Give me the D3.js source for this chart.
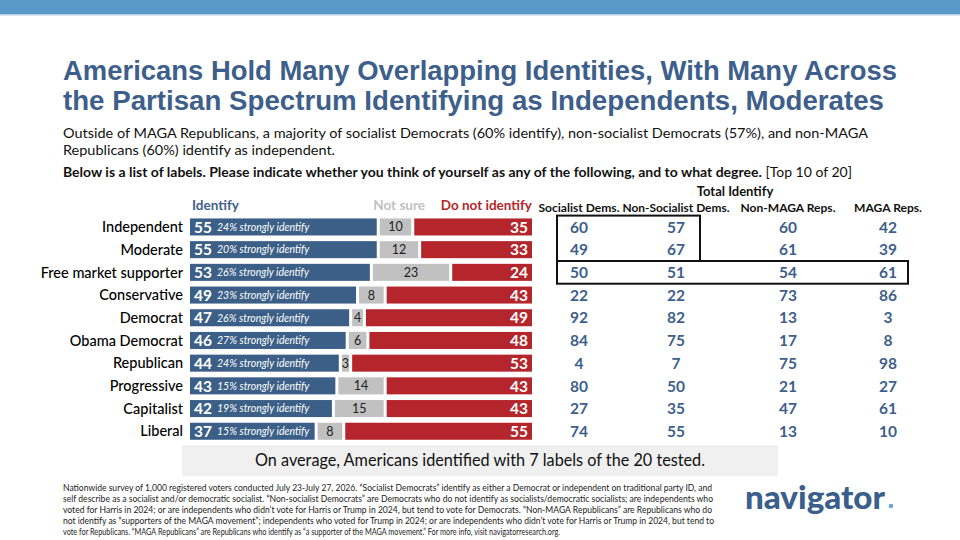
<!DOCTYPE html>
<html>
<head>
<meta charset="utf-8">
<script src="https://cdn.jsdelivr.net/npm/d3@7/dist/d3.min.js"></script>
<style>
  body { margin: 0; background: #fff; }
  svg { display: block; font-family: Lato, "Open Sans", sans-serif; }
</style>
</head>
<body>
<svg id="chart" width="960" height="540"></svg>
<script>
const labels = ["Independent", "Moderate", "Free market supporter", "Conservative", "Democrat",
  "Obama Democrat", "Republican", "Progressive", "Capitalist", "Liberal"];
const identify = [55, 55, 53, 49, 47, 46, 44, 43, 42, 37];
const notSure = [10, 12, 23, 8, 4, 6, 3, 14, 15, 8];
const notIdentify = [35, 33, 24, 43, 49, 48, 53, 43, 43, 55];
const strongly = [24, 20, 26, 23, 26, 27, 24, 15, 19, 15];

const groups = ["Socialist Dems.", "Non-Socialist Dems.", "Non-MAGA Reps.", "MAGA Reps."];
const socialistDems = [60, 49, 50, 22, 92, 84, 4, 80, 27, 74];
const nonSocialistDems = [57, 67, 51, 22, 82, 75, 7, 50, 35, 55];
const nonMagaReps = [60, 61, 54, 73, 13, 17, 75, 21, 47, 13];
const magaReps = [42, 39, 61, 86, 3, 8, 98, 27, 61, 10];

const titleLines = [
  "Americans Hold Many Overlapping Identities, With Many Across",
  "the Partisan Spectrum Identifying as Independents, Moderates"
];
const subtitleLines = [
  "Outside of MAGA Republicans, a majority of socialist Democrats (60% identify), non-socialist Democrats (57%), and non-MAGA",
  "Republicans (60%) identify as independent."
];
const footerLines = [
  "Nationwide survey of 1,000 registered voters conducted July 23-July 27, 2026. \u201cSocialist Democrats\u201d identify as either a Democrat or independent on traditional party ID, and",
  "self describe as a socialist and/or democratic socialist. \u201cNon-socialist Democrats\u201d are Democrats who do not identify as socialists/democratic socialists; are independents who",
  "voted for Harris in 2024; or are independents who didn\u2019t vote for Harris or Trump in 2024, but tend to vote for Democrats. \u201cNon-MAGA Republicans\u201d are Republicans who do",
  "not identify as \u201csupporters of the MAGA movement\u201d; independents who voted for Trump in 2024; or are independents who didn\u2019t vote for Harris or Trump in 2024, but tend to",
  "vote for Republicans. \u201cMAGA Republicans\u201d are Republicans who identify as \u201ca supporter of the MAGA movement.\u201d For more info, visit navigatorresearch.org."
];

const colors = { blue: '#3b5f87', gray: '#c1c1c1', red: '#b5262c', title: '#3e5f8b' };

const svg = d3.select('#chart');

// top band
svg.append('rect').attr('x', 0).attr('y', 0).attr('width', 960).attr('height', 14).attr('fill', '#5b99c9');
svg.append('rect').attr('x', 0).attr('y', 14).attr('width', 960).attr('height', 1.5).attr('fill', '#b3d0e6');

// title
svg.append('g').selectAll('text').data(titleLines).enter().append('text')
  .attr('x', 63).attr('y', (d, i) => 79.5 + i * 30.5)
  .attr('textLength', (d, i) => i == 0 ? 834 : 821)
  .attr('lengthAdjust', 'spacingAndGlyphs')
  .style('font-family', '"Liberation Sans", Arial, sans-serif')
  .style('font-size', '27px').style('font-weight', 700)
  .attr('fill', colors.title).text(d => d);

svg.append('text')
  .style('font-size', '14px').attr('fill', '#111')
  .selectAll('tspan').data(subtitleLines).enter().append('tspan')
  .attr('x', 63).attr('y', (d, i) => 138 + i * 16.5)
  .attr('textLength', (d, i) => i == 0 ? 805 : 272)
  .attr('lengthAdjust', 'spacingAndGlyphs')
  .text(d => d);

let q = svg.append('text').attr('x', 63).attr('y', 177)
  .attr('textLength', 789).attr('lengthAdjust', 'spacingAndGlyphs')
  .style('font-size', '12.5px').attr('fill', '#111');
q.append('tspan').style('font-weight', 700)
  .text('Below is a list of labels. Please indicate whether you think of yourself as any of the following, and to what degree.');
q.append('tspan').text(' [Top 10 of 20]');

// scales
const x = d3.scaleLinear().domain([0, 100]).range([190, 535]);
const y = d3.scaleBand().domain(labels).range([215.6, 442.6]).paddingInner(0.25).paddingOuter(0.125);
const gap = 3;

const rows = labels.map((l, i) => ({
  label: l, id: identify[i], ns: notSure[i], no: notIdentify[i], st: strongly[i],
  vals: [socialistDems[i], nonSocialistDems[i], nonMagaReps[i], magaReps[i]]
}));

// bar legend headers
svg.append('text').attr('x', 192).attr('y', 210).text('Identify')
  .style('font-size', '13.5px').style('font-weight', 700).attr('fill', colors.title);
svg.append('text').attr('x', 425).attr('y', 210).attr('text-anchor', 'end').text('Not sure')
  .style('font-size', '13.5px').style('font-weight', 700).attr('fill', colors.gray);
svg.append('text').attr('x', 532).attr('y', 210).attr('text-anchor', 'end').text('Do not identify')
  .style('font-size', '13.5px').style('font-weight', 700).attr('fill', colors.red);

let bars = svg.append('g').selectAll('g').data(rows).enter().append('g')
  .attr('transform', d => `translate(0,${y(d.label)})`);

bars.append('text').attr('x', 183).attr('y', y.bandwidth() / 2).attr('dy', '0.36em')
  .attr('text-anchor', 'end').style('font-size', '14.5px').style('font-weight', 500)
  .attr('fill', '#000').text(d => d.label);

bars.append('rect').attr('x', x(0)).attr('width', d => x(d.id) - x(0) - gap)
  .attr('height', y.bandwidth()).attr('fill', colors.blue);
bars.append('rect').attr('x', d => x(d.id)).attr('width', d => x(d.ns) - x(0) - gap)
  .attr('height', y.bandwidth()).attr('fill', colors.gray);
bars.append('rect').attr('x', d => x(d.id + d.ns)).attr('width', d => x(d.no) - x(0) - gap)
  .attr('height', y.bandwidth()).attr('fill', colors.red);

bars.append('text').attr('x', x(0) + 4).attr('y', y.bandwidth() / 2).attr('dy', '0.37em')
  .style('font-size', '15.5px').style('font-weight', 700).attr('fill', '#fff').text(d => d.id);
bars.append('text').attr('x', x(0) + 27).attr('y', y.bandwidth() / 2).attr('dy', '0.36em')
  .style('font-size', '10.5px').style('font-style', 'italic').attr('fill', '#fff')
  .text(d => d.st + '% strongly identify');
bars.append('text').attr('x', d => (x(d.id) + x(d.id + d.ns) - gap) / 2).attr('y', y.bandwidth() / 2)
  .attr('dy', '0.36em').attr('text-anchor', 'middle')
  .style('font-size', '12.5px').attr('fill', '#222').text(d => d.ns);
bars.append('text').attr('x', d => x(d.id + d.ns + d.no) - gap - 4).attr('y', y.bandwidth() / 2)
  .attr('dy', '0.37em').attr('text-anchor', 'end')
  .style('font-size', '15.5px').style('font-weight', 700).attr('fill', '#fff').text(d => d.no);

// table
const col = d3.scaleOrdinal().domain(groups).range([579, 676, 788, 888]);

svg.append('text').attr('x', 735).attr('y', 196).attr('text-anchor', 'middle')
  .style('font-size', '13px').style('font-weight', 700).attr('fill', '#111').text('Total Identify');
svg.append('g').selectAll('text').data(groups).enter().append('text')
  .attr('x', d => col(d)).attr('y', 212).attr('text-anchor', 'middle')
  .attr('textLength', (d, i) => [81, 107, 95, 68][i]).attr('lengthAdjust', 'spacingAndGlyphs')
  .style('font-size', '11.5px').style('font-weight', 700).attr('fill', '#111').text(d => d);

bars.selectAll('.cell').data(d => d.vals.map((v, j) => ({ g: groups[j], v: v }))).enter().append('text')
  .attr('class', 'cell')
  .attr('x', d => col(d.g)).attr('y', y.bandwidth() / 2).attr('dy', '0.37em').attr('text-anchor', 'middle')
  .style('font-size', '15.5px').style('font-weight', 700).attr('fill', colors.title).text(d => d.v);

// highlight boxes
const half = y.step() / 2;
const yc = l => y(l) + y.bandwidth() / 2;
svg.append('rect')
  .attr('x', col(groups[0]) - 22).attr('y', yc(labels[0]) - half)
  .attr('width', col(groups[1]) + 24 - (col(groups[0]) - 22))
  .attr('height', yc(labels[1]) - yc(labels[0]) + 2 * half)
  .attr('fill', 'none').attr('stroke', '#111').attr('stroke-width', 2);
svg.append('rect')
  .attr('x', col(groups[0]) - 22).attr('y', yc(labels[2]) - half)
  .attr('width', col(groups[3]) + 20 - (col(groups[0]) - 22))
  .attr('height', 2 * half)
  .attr('fill', 'none').attr('stroke', '#111').attr('stroke-width', 2);

// summary box
svg.append('rect').attr('x', 182).attr('y', 445).attr('width', 596).attr('height', 31).attr('fill', '#f0f0f0');
svg.append('text').attr('x', 480).attr('y', 466).attr('text-anchor', 'middle')
  .attr('textLength', 450).attr('lengthAdjust', 'spacingAndGlyphs')
  .style('font-size', '17px').attr('fill', '#111')
  .text('On average, Americans identified with 7 labels of the 20 tested.');

// footer
svg.append('text')
  .style('font-size', '8.6px').attr('fill', '#222')
  .selectAll('tspan').data(footerLines).enter().append('tspan')
  .attr('x', 63).attr('y', (d, i) => 491 + i * 11)
  .attr('textLength', (d, i) => [649, 650, 649, 651, 497][i]).attr('lengthAdjust', 'spacingAndGlyphs')
  .text(d => d);

// logo
svg.append('text').attr('x', 745).attr('y', 509)
  .attr('textLength', 140).attr('lengthAdjust', 'spacingAndGlyphs')
  .style('font-size', '33px').style('font-weight', 900).attr('fill', '#3a5f8c').text('navigator');
svg.append('circle').attr('cx', 891).attr('cy', 506).attr('r', 2.3).attr('fill', '#6aa7d8');
</script>
</body>
</html>
